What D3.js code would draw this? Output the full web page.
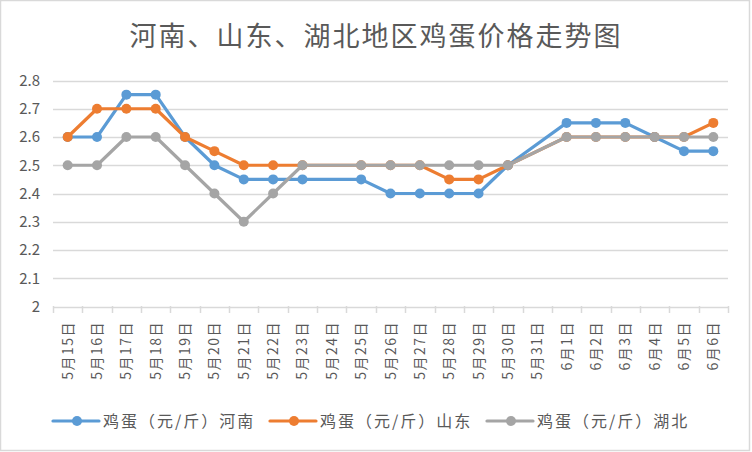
<!DOCTYPE html>
<html><head><meta charset="utf-8">
<script src="https://cdn.jsdelivr.net/npm/d3@7"></script>
<style>body{margin:0;background:#fff}svg{display:block}</style>
</head><body><svg id="c" width="752" height="452"></svg>
<script>
const title = "河南、山东、湖北地区鸡蛋价格走势图";
const categories = ["5月15日","5月16日","5月17日","5月18日","5月19日","5月20日","5月21日","5月22日","5月23日","5月24日","5月25日","5月26日","5月27日","5月28日","5月29日","5月30日","5月31日","6月1日","6月2日","6月3日","6月4日","6月5日","6月6日"];
const seriesNames = ["鸡蛋（元/斤）河南","鸡蛋（元/斤）山东","鸡蛋（元/斤）湖北"];
const henan    = [2.6,2.6,2.75,2.75,2.6,2.5,2.45,2.45,2.45,null,2.45,2.4,2.4,2.4,2.4,2.5,null,2.65,2.65,2.65,2.6,2.55,2.55];
const shandong = [2.6,2.7,2.7,2.7,2.6,2.55,2.5,2.5,2.5,null,2.5,2.5,2.5,2.45,2.45,2.5,null,2.6,2.6,2.6,2.6,2.6,2.65];
const hubei    = [2.5,2.5,2.6,2.6,2.5,2.4,2.3,2.4,2.5,null,2.5,2.5,2.5,2.5,2.5,2.5,null,2.6,2.6,2.6,2.6,2.6,2.6];
const yTicks = [2,2.1,2.2,2.3,2.4,2.5,2.6,2.7,2.8];
const colors = ["#5B9BD5","#ED7D31","#A5A5A5"];

const svg = d3.select("#c");
const FONT = "'Noto Sans CJK SC','Microsoft YaHei',sans-serif";
const txt = "#595959";
svg.append("rect").attr("x",0.5).attr("y",0.5).attr("width",749).attr("height",450)
  .attr("fill","#fff").attr("stroke","#d9d9d9").attr("stroke-width",1.5);

svg.append("text").attr("x",376).attr("y",46).attr("text-anchor","middle")
  .attr("font-family",FONT).attr("font-size",27).attr("letter-spacing",2)
  .attr("fill",txt).text(title);

const x = d3.scaleBand().domain(categories).range([53,728]);
const y = d3.scaleLinear().domain([2,2.8]).range([306.5,80.5]);

// gridlines
const g = svg.append("g");
g.selectAll("line.grid").data(yTicks).join("line")
  .attr("x1",53).attr("x2",728).attr("y1",d=>Math.round(y(d))+0.5).attr("y2",d=>Math.round(y(d))+0.5)
  .attr("stroke","#d9d9d9").attr("stroke-width",1.5);

// y axis labels
const yAxis = d3.axisLeft(y).tickValues(yTicks).tickSize(0).tickPadding(0).tickFormat(d=>d3.format("")(+d.toFixed(1)));
const ya = svg.append("g").attr("transform","translate(40,0)").call(yAxis);
ya.select(".domain").remove();
ya.selectAll("text").attr("font-family",FONT).attr("font-size",15).attr("fill",txt);

// x axis ticks at boundaries
const bounds = categories.map(c=>x(c)).concat([x.range()[1]]);
svg.append("g").selectAll("line").data(bounds).join("line")
  .attr("x1",d=>Math.round(d)+0.5).attr("x2",d=>Math.round(d)+0.5).attr("y1",306).attr("y2",313)
  .attr("stroke","#d9d9d9").attr("stroke-width",1.5);

// x labels
svg.append("g").selectAll("text").data(categories).join("text")
  .attr("transform",d=>`translate(${x(d)+x.bandwidth()/2+5},321) rotate(-90)`)
  .attr("text-anchor","end").attr("font-family",FONT).attr("font-size",14)
  .attr("letter-spacing",1.5).attr("fill",txt).text(d=>d);

// lines
const all = [henan,shandong,hubei];
const line = d3.line().x(d=>x(d.c)+x.bandwidth()/2).y(d=>y(d.v));
all.forEach((arr,i)=>{
  const pts = arr.map((v,j)=>({c:categories[j],v})).filter(d=>d.v!==null);
  svg.append("path").datum(pts).attr("d",line).attr("fill","none")
    .attr("stroke",colors[i]).attr("stroke-width",3.2).attr("stroke-linejoin","round");
  svg.append("g").selectAll("circle").data(pts).join("circle")
    .attr("cx",d=>x(d.c)+x.bandwidth()/2).attr("cy",d=>y(d.v)).attr("r",5)
    .attr("fill",colors[i]);
});

// legend
const lg = svg.append("g");
seriesNames.forEach((n,i)=>{
  const lx = 53 + i*217;
  lg.append("line").attr("x1",lx).attr("x2",lx+46).attr("y1",421).attr("y2",421)
    .attr("stroke",colors[i]).attr("stroke-width",3.2).attr("stroke-linecap","round");
  lg.append("circle").attr("cx",lx+24).attr("cy",421).attr("r",5).attr("fill",colors[i]);
  lg.append("text").attr("x",lx+50).attr("y",427).attr("font-family",FONT).attr("font-size",16)
    .attr("letter-spacing",2).attr("fill",txt).text(n);
});
</script></body></html>
